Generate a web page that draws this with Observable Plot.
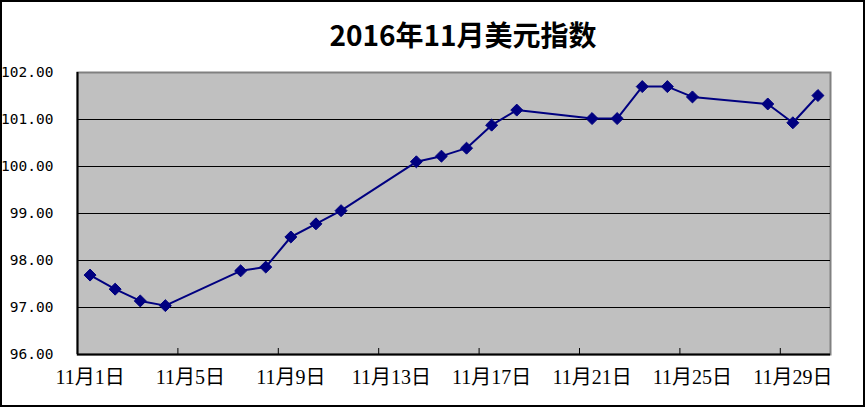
<!DOCTYPE html>
<html><head><meta charset="utf-8">
<script src="https://cdn.jsdelivr.net/npm/d3@7"></script>
<script src="https://cdn.jsdelivr.net/npm/@observablehq/plot@0.6"></script>
<style>
html,body{margin:0;padding:0;background:#fff;overflow:hidden}
#wrap{position:relative;width:865px;height:407px}
#border{position:absolute;left:0;top:0;width:865px;height:407px;box-sizing:border-box;border:2px solid #000;pointer-events:none}
#title{position:absolute;top:20px;left:463px;transform:translateX(-50%);font:bold 28px "Noto Sans CJK SC",sans-serif;white-space:nowrap;line-height:1.0;color:#000}
#chart{position:absolute;left:0;top:0}
</style></head>
<body><div id="wrap"><div id="chart"></div><div id="title">2016年11月美元指数</div><div id="border"></div></div>
<script>
const days = [1,2,3,4,7,8,9,10,11,14,15,16,17,18,21,22,23,24,25,28,29,30];
const values = [97.69,97.39,97.14,97.04,97.78,97.86,98.50,98.78,99.06,100.10,100.22,100.39,100.88,101.20,101.02,101.02,101.70,101.70,101.48,101.33,100.93,101.51];
const labelDays = [1,5,9,13,17,21,25,29];
const yTicks = [96,97,98,99,100,101,102];
const data = days.map((d,i)=>({x:d+0.5,y:values[i]}));

const plot = Plot.plot({
  width: 865, height: 407,
  marginLeft: 77, marginRight: 35, marginTop: 72, marginBottom: 53,
  x: {domain: [1,31], axis: null},
  y: {domain: [96,102], axis: null},
  style: {background: "transparent", overflow: "visible"},
  marks: [
    Plot.frame({fill: "#c0c0c0", stroke: "#808080", strokeWidth: 2}),
    Plot.ruleY(yTicks.filter(v=>v>96 && v<102), {stroke:"#000", strokeWidth:1}),
    Plot.ruleX([1], {stroke:"#000", strokeWidth:2}),
    Plot.ruleY([96], {stroke:"#000", strokeWidth:2}),
    Plot.tickX(labelDays.slice(1), {x: d=>d, stroke:"#000", strokeWidth:1, insetTop: 276}),
    Plot.axisY(yTicks, {label: null, tickSize:0, tickPadding:24, tickFormat: d=>d.toFixed(2), fontSize:14.5, fontFamily:"DejaVu Sans Mono", fill:"#000"}),
    Plot.text(labelDays, {x: d=>d+0.5, frameAnchor:"bottom", dy:29, text: d=>`11月${d}日`, fontSize:20, fontFamily:'"Liberation Serif","Noto Sans CJK SC"', fill:"#000"}),
    Plot.line(data, {x:"x", y:"y", stroke:"#000080", strokeWidth:2}),
    Plot.dot(data, {x:"x", y:"y", symbol:"diamond2", r:5.4, fill:"#000080", stroke:"#000080", strokeWidth:1})
  ]
});
document.getElementById("chart").appendChild(plot);
</script>
</body></html>
